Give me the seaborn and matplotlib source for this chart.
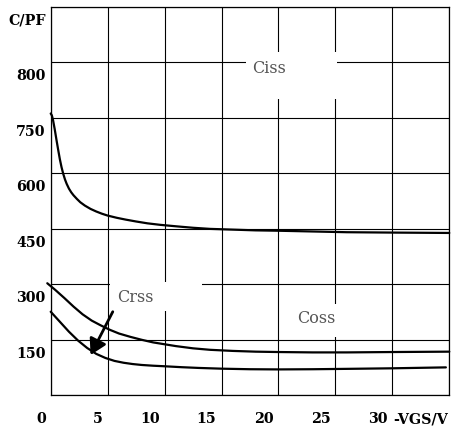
import matplotlib
matplotlib.use("Agg")
import matplotlib.pyplot as plt
from matplotlib.patches import Rectangle
from matplotlib.transforms import ScaledTranslation
import pandas as pd
import seaborn as sns

# Capacitance vs. gate-source voltage
ciss_v = [0, 0.1, 0.2, 0.35, 0.5, 0.65, 0.8, 0.95, 1.1, 1.25, 1.4, 1.6, 1.8, 2.0, 2.3, 2.6,
          3.0, 3.5, 4.0, 4.5, 5.0, 5.8, 6.6, 7.5, 8.5, 9.6, 11, 12.5, 14, 16, 18, 20, 23, 26, 30, 35]
ciss_c = [762, 757, 745, 720, 692, 665, 639, 617, 599, 584, 572, 559, 549, 541, 531, 522,
          513, 504, 497, 491, 486, 480, 475, 470, 465, 461, 457, 453, 450, 448, 446, 445, 443, 441, 440, 439]

coss_v = [-0.3, 0.4, 1.2, 2.0, 2.8, 3.6, 4.4, 5.2, 6.0, 7.0, 8.0, 9.0, 10.0, 11.0, 12.5,
          14, 16, 18, 20, 23, 26, 30, 35]
coss_c = [303, 285, 263, 240, 219, 202, 189, 177, 167, 158, 150, 143, 138, 133, 127,
          123, 120, 118, 117, 116, 116, 117, 118]

crss_v = [0, 0.8, 1.6, 2.4, 3.2, 4.0, 4.8, 5.6, 6.4, 7.2, 8.0, 9.0, 10.0, 11.5, 13, 15,
          17.5, 20, 23, 26, 30, 34.7]
crss_c = [226, 199, 172, 148, 128, 112, 101, 93, 88, 84.5, 82, 80, 78.5, 76, 74, 72,
          70.5, 70, 70.5, 71.5, 73, 75.5]

x_ticks = [0, 5, 10, 15, 20, 25, 30, 35]
x_labels = ["0", "5", "10", "15", "20", "25", "30", ""]
y_ticks = [0, 150, 300, 450, 600, 750, 900, 1050]
y_labels = ["", "150", "300", "450", "600", "750", "800", "C/PF"]

df = pd.concat([
    pd.DataFrame({"vgs": ciss_v, "cap": ciss_c, "curve": "Ciss"}),
    pd.DataFrame({"vgs": coss_v, "cap": coss_c, "curve": "Coss"}),
    pd.DataFrame({"vgs": crss_v, "cap": crss_c, "curve": "Crss"}),
])

sns.set_theme(style="white")
plt.rcParams["font.family"] = ["DejaVu Serif", "DejaVu Sans"]

W, H, DPI = 457, 430, 100
fig = plt.figure(figsize=(W / DPI, H / DPI), dpi=DPI)
left, right, top, bottom = 50.7, 449.3, 7.0, 395.3
ax = fig.add_axes([left / W, 1 - bottom / H, (right - left) / W, (bottom - top) / H])

sns.lineplot(data=df, x="vgs", y="cap", hue="curve",
             palette={"Ciss": "black", "Coss": "black", "Crss": "black"},
             estimator=None, sort=False, legend=False, linewidth=1.6, ax=ax, zorder=3)
for ln in ax.lines:
    ln.set_clip_on(False)
    ln.set_solid_joinstyle("round")

ax.set_xlim(0, 35)
ax.set_ylim(0, 1050)
ax.set_xlabel("")
ax.set_ylabel("")
ax.set_axisbelow(True)
ax.grid(True, color="black", linewidth=0.8)
for sp in ax.spines.values():
    sp.set_visible(True)
    sp.set_color("black")
    sp.set_linewidth(0.9)

tick_font = dict(fontsize=10.3, fontweight="bold", color="black")
ax.set_xticks(x_ticks, labels=x_labels, **tick_font)
ax.set_yticks(y_ticks, labels=y_labels, **tick_font)
ax.tick_params(axis="both", length=0, pad=0)

for lbl in ax.get_xticklabels():
    lbl.set_ha("right")
    lbl.set_va("center")
    lbl.set_transform(lbl.get_transform() + ScaledTranslation(-5 / DPI, -24 / DPI, fig.dpi_scale_trans))
for lbl in ax.get_yticklabels():
    lbl.set_ha("right")
    lbl.set_va("center")
    lbl.set_transform(lbl.get_transform() + ScaledTranslation(-5 / DPI, -14 / DPI, fig.dpi_scale_trans))

ax.annotate("-VGS/V", xy=(30, 0), xycoords=("data", "axes fraction"),
            xytext=(1, -24), textcoords="offset pixels",
            ha="left", va="center", **tick_font)

# white label panels that break the grid behind each curve name
label_font = dict(fontsize=11.5, color="#555555", ha="left", va="center", zorder=4)
panels = [
    ((17.13, 802), 25.11 - 17.13, 927 - 802),
    ((5.2, 228), 13.27 - 5.2, 307 - 228),
    ((20.5, 158), 25.2 - 20.5, 248 - 158),
]
for (x0, y0), w, h in panels:
    ax.add_patch(Rectangle((x0, y0), w, h, facecolor="white", edgecolor="none", zorder=1))

ax.text(17.66, 884, "Ciss", **label_font)
ax.text(5.82, 265, "Crss", **label_font)
ax.text(21.67, 207, "Coss", **label_font)

ax.annotate("", xy=(3.5, 109), xytext=(5.45, 226),
            arrowprops=dict(arrowstyle="-|>,head_length=0.47,head_width=0.27",
                            mutation_scale=20, color="black", lw=2.0,
                            shrinkA=0, shrinkB=0),
            zorder=5)

fig.savefig("out.png", dpi=DPI, facecolor="white")
